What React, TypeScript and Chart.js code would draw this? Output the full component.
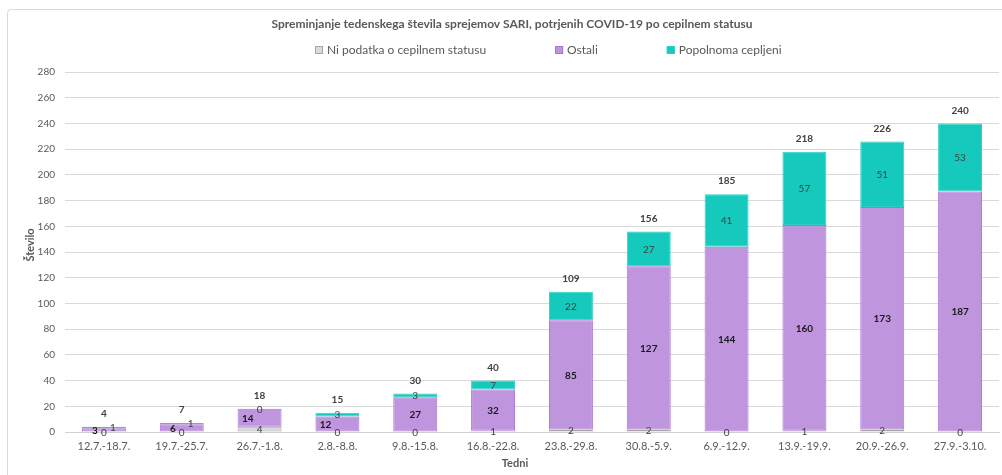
import React, { useEffect, useRef } from "react";
import { Chart, registerables } from "chart.js";

Chart.register(...registerables);

const TITLE = "Spreminjanje tedenskega števila sprejemov SARI, potrjenih COVID-19 po cepilnem statusu";
const X_TITLE = "Tedni";
const Y_TITLE = "Število";

const categories = [
  "12.7.-18.7.", "19.7.-25.7.", "26.7.-1.8.", "2.8.-8.8.", "9.8.-15.8.", "16.8.-22.8.",
  "23.8.-29.8.", "30.8.-5.9.", "6.9.-12.9.", "13.9.-19.9.", "20.9.-26.9.", "27.9.-3.10.",
];

const seriesNames = ["Ni podatka o cepilnem statusu", "Ostali", "Popolnoma cepljeni"];
const noData = [0, 0, 4, 0, 0, 1, 2, 2, 0, 1, 2, 0];
const others = [3, 6, 14, 12, 27, 32, 85, 127, 144, 160, 173, 187];
const vaccinated = [1, 1, 0, 3, 3, 7, 22, 27, 41, 57, 51, 53];

const fills = ["#D9D9D9", "#BF95DE", "#15C9BC"];
const borders = ["#A6A6A6", "#A873D4", "#2FCFC3"];
const labelColors = ["#404040", "#1a1a1a", "#404040"];
const labelWeights = ["normal", "bold", "normal"];

const FONT = "Lato, 'Open Sans', sans-serif";

const customPlugin = {
  id: "custom",
  afterDatasetsDraw(chart: any) {
    const ctx = chart.ctx;
    const yScale = chart.scales.y;
    ctx.save();
    ctx.textBaseline = "middle";
    ctx.textAlign = "center";
    // segment labels with simple collision avoidance
    for (let i = 0; i < categories.length; i++) {
      const placed: { x: number; y: number; w: number }[] = [];
      for (let d = 0; d < 3; d++) {
        const meta = chart.getDatasetMeta(d);
        const el = meta.data[i];
        const v = chart.data.datasets[d].data[i];
        const txt = String(v);
        ctx.font = `${labelWeights[d]} 10px ${FONT}`;
        const w = ctx.measureText(txt).width;
        const y = (el.y + el.base) / 2;
        let x = el.x;
        const overlaps = (cx: number) =>
          placed.some((p) => Math.abs(p.y - y) < 12 && Math.abs(p.x - cx) < (p.w + w) / 2 + 2);
        if (d > 0 && overlaps(x)) {
          const shift = d === 1 ? -1 : 1;
          let cand = x + shift * (w / 2 + 6);
          if (overlaps(cand)) cand = x + shift * (w / 2 + 10);
          x = cand;
        }
        placed.push({ x, y, w });
        ctx.fillStyle = labelColors[d];
        ctx.fillText(txt, x, y + 0.5);
      }
      // total label
      const total = noData[i] + others[i] + vaccinated[i];
      const topY = yScale.getPixelForValue(total);
      const el0 = chart.getDatasetMeta(2).data[i];
      ctx.font = `bold 10px ${FONT}`;
      ctx.fillStyle = "#404040";
      ctx.fillText(String(total), el0.x, topY - 13);
    }

    // title
    ctx.font = `bold 12px ${FONT}`;
    ctx.fillStyle = "#595959";
    ctx.fillText(TITLE, 512, 24);

    // legend
    ctx.font = `12px ${FONT}`;
    ctx.textAlign = "left";
    let lx = 315;
    for (let d = 0; d < 3; d++) {
      ctx.fillStyle = fills[d];
      ctx.fillRect(lx, 46, 8, 8);
      ctx.strokeStyle = borders[d];
      ctx.lineWidth = 1;
      ctx.strokeRect(lx + 0.5, 46.5, 7, 7);
      ctx.fillStyle = "#595959";
      ctx.fillText(seriesNames[d], lx + 12, 50.5);
      lx += 12 + ctx.measureText(seriesNames[d]).width + 69;
    }

    // axis titles
    ctx.textAlign = "center";
    ctx.font = `bold 11px ${FONT}`;
    ctx.fillStyle = "#595959";
    ctx.fillText(X_TITLE, 515, 463);
    ctx.translate(30, 245);
    ctx.rotate(-Math.PI / 2);
    ctx.fillText(Y_TITLE, 0, 0);
    ctx.restore();
  },
};

export default function App() {
  const ref = useRef<HTMLCanvasElement | null>(null);
  useEffect(() => {
    if (!ref.current) return;
    const values = [noData, others, vaccinated];
    const chart = new Chart(ref.current, {
      type: "bar",
      data: {
        labels: categories,
        datasets: values.map((arr, d) => ({
          label: seriesNames[d],
          data: arr,
          backgroundColor: fills[d],
          borderColor: borders[d],
          borderWidth: 1,
          borderSkipped: false,
          categoryPercentage: 1,
          barPercentage: 0.565,
        })),
      },
      options: {
        responsive: false,
        animation: false,
        devicePixelRatio: 1,
        layout: { padding: { top: 72, left: 0, right: 3, bottom: 0 } },
        plugins: {
          legend: { display: false },
          title: { display: false },
          tooltip: { enabled: false },
        },
        scales: {
          x: {
            stacked: true,
            grid: { display: false, drawTicks: false },
            border: { display: true, color: "#D0D0D0", width: 1 },
            ticks: {
              padding: 8,
              color: "#595959",
              font: { family: FONT, size: 11 },
              maxRotation: 0,
              autoSkip: false,
            },
            afterFit(scale: any) {
              scale.height = 43;
            },
          },
          y: {
            stacked: true,
            min: 0,
            max: 280,
            ticks: {
              stepSize: 20,
              padding: 10,
              color: "#595959",
              font: { family: FONT, size: 10 },
            },
            grid: { color: "#D9D9D9", drawTicks: false, lineWidth: 1 },
            border: { display: false },
            afterFit(scale: any) {
              scale.width = 65;
            },
          },
        },
      },
      plugins: [customPlugin],
    });
    return () => chart.destroy();
  }, []);

  return (
    <div style={{ position: "fixed", left: 0, top: 0, width: 1002, height: 475, background: "#fff", overflow: "hidden" }}>
      <div
        style={{
          position: "absolute",
          left: 7,
          top: 9,
          width: 1020,
          height: 520,
          border: "1px solid #D9D9D9",
          borderRadius: 4,
          boxSizing: "border-box",
        }}
      />
      <canvas ref={ref} width={1002} height={475} style={{ position: "absolute", left: 0, top: 0 }} />
    </div>
  );
}
